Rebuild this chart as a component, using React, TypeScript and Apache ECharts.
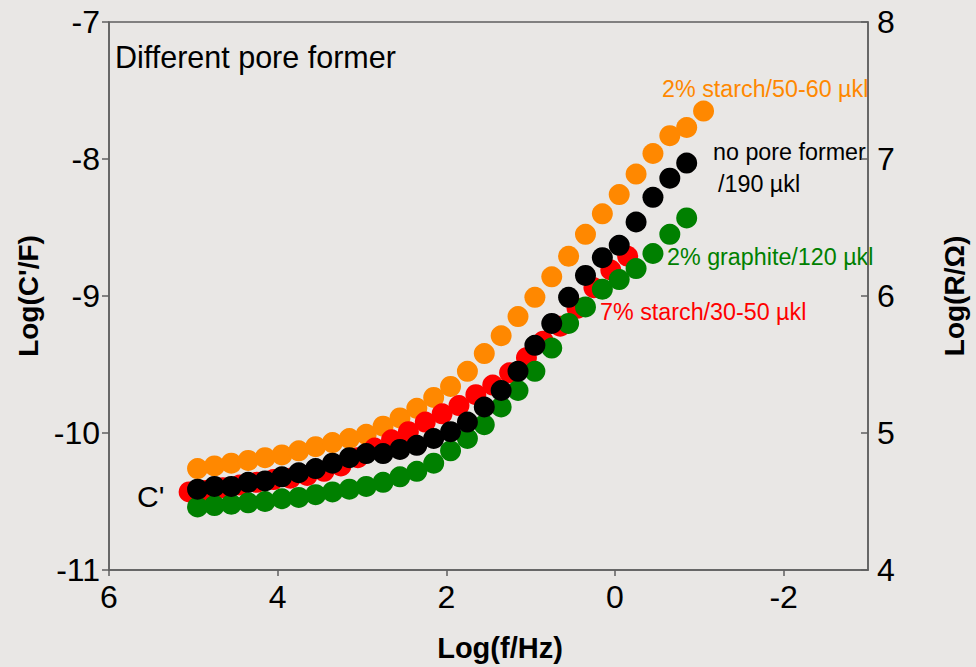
import React, { useEffect, useRef } from "react";
import * as echarts from "echarts";

// log(f/Hz) positions of the measured points
const logFreqMain = [4.95, 4.75, 4.55, 4.35, 4.15, 3.95, 3.75, 3.55, 3.35, 3.15, 2.95, 2.75, 2.55, 2.35, 2.15, 1.95, 1.75, 1.55, 1.35, 1.15, 0.95, 0.75, 0.55, 0.35, 0.15, -0.05, -0.25, -0.45, -0.65, -0.85, -1.05];
const logFreqRed = [5.05, 4.85, 4.65, 4.45, 4.25, 4.05, 3.85, 3.65, 3.45, 3.25, 3.05, 2.85, 2.65, 2.45, 2.25, 2.05, 1.85, 1.65, 1.45, 1.25, 1.05, 0.85, 0.65, 0.45, 0.25, 0.05, -0.15];

// log(C'/F) values
const starch2 = [-10.26, -10.24, -10.22, -10.2, -10.18, -10.16, -10.13, -10.1, -10.07, -10.04, -10.01, -9.95, -9.89, -9.82, -9.74, -9.66, -9.55, -9.42, -9.29, -9.15, -9.01, -8.86, -8.71, -8.55, -8.4, -8.26, -8.11, -7.96, -7.83, -7.77, -7.65];
const starch7 = [-10.43, -10.42, -10.4, -10.38, -10.36, -10.34, -10.33, -10.31, -10.28, -10.24, -10.18, -10.11, -10.05, -9.99, -9.92, -9.86, -9.8, -9.72, -9.65, -9.56, -9.45, -9.33, -9.22, -9.09, -8.94, -8.81, -8.71];
const graphite2 = [-10.54, -10.53, -10.52, -10.51, -10.5, -10.48, -10.47, -10.45, -10.43, -10.41, -10.39, -10.36, -10.32, -10.28, -10.22, -10.13, -10.04, -9.94, -9.81, -9.69, -9.55, -9.38, -9.2, -9.08, -8.95, -8.88, -8.8, -8.69, -8.55, -8.43];
const noFormer = [-10.41, -10.39, -10.39, -10.36, -10.35, -10.32, -10.29, -10.26, -10.22, -10.18, -10.15, -10.15, -10.12, -10.09, -10.04, -9.99, -9.92, -9.81, -9.69, -9.55, -9.36, -9.2, -9.01, -8.85, -8.72, -8.63, -8.46, -8.28, -8.14, -8.03];

const xTicks = [6, 4, 2, 0, -2];

const FONT = "'Liberation Sans', Arial, Helvetica, sans-serif";
const AXIS = "#5f5f5f";

function pairs(xs: number[], ys: number[]) {
  return ys.map((y, i) => [xs[i], y]);
}

export default function App() {
  const ref = useRef<HTMLDivElement>(null);
  useEffect(() => {
    if (!ref.current) return;
    const chart = echarts.init(ref.current, undefined, { renderer: "svg" });
    const sym = (name: string, color: string, xs: number[], ys: number[]) => ({
      name,
      type: "scatter",
      symbol: "circle",
      symbolSize: 21,
      itemStyle: { color, opacity: 1 },
      data: pairs(xs, ys),
      z: 2,
    });
    chart.setOption({
      animation: false,
      backgroundColor: "#e9e7e5",
      textStyle: { fontFamily: FONT },
      grid: {
        left: 109,
        right: 105,
        top: 22,
        bottom: 97,
        show: true,
        borderColor: AXIS,
        borderWidth: 1.5,
        backgroundColor: "transparent",
      },
      xAxis: {
        type: "value",
        min: -3,
        max: 6,
        inverse: true,
        splitLine: { show: false },
        axisLine: { show: true, onZero: false, lineStyle: { color: AXIS, width: 1.5 } },
        axisTick: { show: true, length: 6, lineStyle: { color: AXIS, width: 1.5 }, customValues: xTicks },
        axisLabel: { color: "#000", fontSize: 32, fontFamily: FONT, margin: 11, customValues: xTicks },
      },
      yAxis: [
        {
          type: "value",
          min: -11,
          max: -7,
          interval: 1,
          splitLine: { show: false },
          axisLine: { show: true, onZero: false, lineStyle: { color: AXIS, width: 1.5 } },
          axisTick: { show: true, length: 7, lineStyle: { color: AXIS, width: 1.5 } },
          axisLabel: { color: "#000", fontSize: 32, fontFamily: FONT, margin: 9 },
          name: "Log(C'/F)",
          nameLocation: "middle",
          nameRotate: 90,
          nameGap: 66,
          nameTextStyle: { color: "#000", fontSize: 28, fontWeight: "bold", fontFamily: FONT },
        },
        {
          type: "value",
          position: "right",
          min: 4,
          max: 8,
          interval: 1,
          splitLine: { show: false },
          axisLine: { show: true, onZero: false, lineStyle: { color: AXIS, width: 1.5 } },
          axisTick: { show: true, inside: true, length: 7, lineStyle: { color: AXIS, width: 1.5 } },
          axisLabel: { color: "#000", fontSize: 32, fontFamily: FONT, margin: 9 },
          name: "Log(R/Ω)",
          nameLocation: "middle",
          nameRotate: 90,
          nameGap: 72,
          nameTextStyle: { color: "#000", fontSize: 28, fontWeight: "bold", fontFamily: FONT },
        },
      ],
      series: [
        sym("2% starch/50-60 µkl", "#ff8800", logFreqMain, starch2),
        sym("7% starch/30-50 µkl", "#ff0000", logFreqRed, starch7),
        sym("2% graphite/120 µkl", "#008000", logFreqMain, graphite2),
        sym("no pore former /190 µkl", "#000000", logFreqMain, noFormer),
      ],
      graphic: [
        { type: "text", x: 500, y: 648, style: { text: "Log(f/Hz)", fill: "#000", fontSize: 29, fontWeight: "bold", fontFamily: FONT, align: "center", verticalAlign: "middle" } },
        { type: "text", left: 115, top: 41, style: { text: "Different pore former", fill: "#000", fontSize: 30.5, fontFamily: FONT } },
        { type: "text", left: 137, top: 481, style: { text: "C'", fill: "#000", fontSize: 30, fontFamily: FONT } },
        { type: "text", left: 662, top: 77, style: { text: "2% starch/50-60 µkl", fill: "#ff8800", fontSize: 23.3, fontFamily: FONT } },
        { type: "text", left: 713, top: 140, style: { text: "no pore former", fill: "#000", fontSize: 23.3, fontFamily: FONT } },
        { type: "text", left: 718, top: 172, style: { text: "/190 µkl", fill: "#000", fontSize: 23.3, fontFamily: FONT } },
        { type: "text", left: 667, top: 245, style: { text: "2% graphite/120 µkl", fill: "#008000", fontSize: 23.3, fontFamily: FONT } },
        { type: "text", left: 600, top: 300, style: { text: "7% starch/30-50 µkl", fill: "#ff0000", fontSize: 23.3, fontFamily: FONT } },
      ],
    });
    return () => chart.dispose();
  }, []);
  return <div ref={ref} style={{ position: "fixed", left: 0, top: 0, width: 976, height: 667 }} />;
}
